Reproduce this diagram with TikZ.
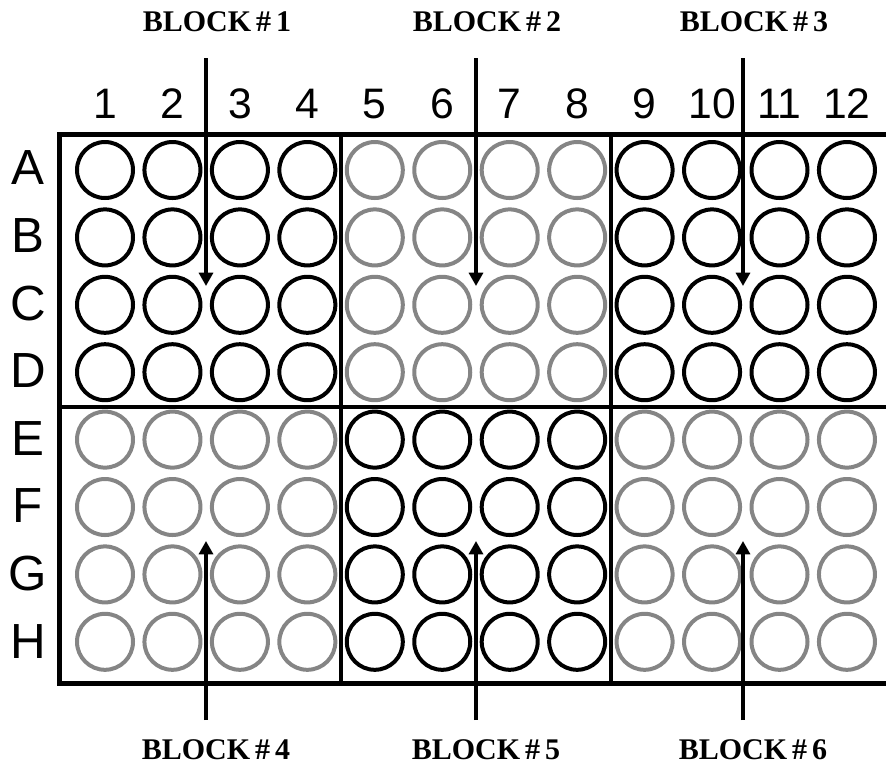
\documentclass[tikz,border=0pt]{standalone}
\usepackage{fontspec}
\setmainfont{Liberation Serif}
\setsansfont{Liberation Sans}
\usetikzlibrary{arrows.meta}

\begin{document}
\begin{tikzpicture}[
  x=0.75pt, y=-0.75pt,
  well/.style={circle, draw, line width=3pt, minimum size=42pt, inner sep=0pt},
  collbl/.style={font=\sffamily\fontsize{32}{34}\selectfont, inner sep=0pt},
  rowlbl/.style={font=\sffamily\fontsize{37}{40}\selectfont, inner sep=0pt},
  blklbl/.style={font=\bfseries\fontsize{22.5}{24}\selectfont, inner sep=0pt},
  plate/.style={line width=3.75pt, line cap=rect},
  divider/.style={line width=2.4pt},
  pointer/.style={-{Triangle[length=10pt, width=10.5pt]}, line width=2.4pt},
]
\useasboundingbox (0,0) rectangle (886,769);

% ---------- plate outline ----------
\draw[plate] (886,134) -- (59,134) -- (59,683) -- (886,683);
\draw[divider] (59,407) -- (886,407);
\draw[divider] (341,134) -- (341,683);
\draw[divider] (611,134) -- (611,683);

% ---------- column and row labels ----------
\foreach \c in {1,...,12}
  \node[collbl] (col\c) at ({105+67.45*(\c-1)}, 104) {\c};
\foreach \r [count=\i from 0] in {A,...,H}
  \node[rowlbl] (row\r) at (28, {168+67.6*\i}) {\r};

% ---------- wells ----------
\foreach \r [count=\i from 0] in {A,...,H}
  \foreach \c in {1,...,12} {
    \pgfmathtruncatemacro\grp{div(\i,4)+div(\c-1,4)}
    \ifodd\grp \def\wcol{black!48}\else\def\wcol{black}\fi
    \node[well, draw=\wcol] (\r\c) at ({105+67.45*(\c-1)}, {170+67.4*\i}) {};
  }

% ---------- blocks ----------
\foreach \n/\x in {1/206, 2/476, 3/743} {
  \node[blklbl] (blk\n) at (\x+11, 22) {BLOCK\,\#\,\n};
  \coordinate (from\n) at (\x, 58);
  \coordinate (tip\n) at (\x, 286);
  \draw[pointer] (from\n) -- (tip\n);
}
\foreach \n/\x in {4/206, 5/476, 6/743} {
  \node[blklbl] (blk\n) at (\x+10, 750) {BLOCK\,\#\,\n};
  \coordinate (from\n) at (\x, 720);
  \coordinate (tip\n) at (\x, 541);
  \draw[pointer] (from\n) -- (tip\n);
}

\end{tikzpicture}
\end{document}
